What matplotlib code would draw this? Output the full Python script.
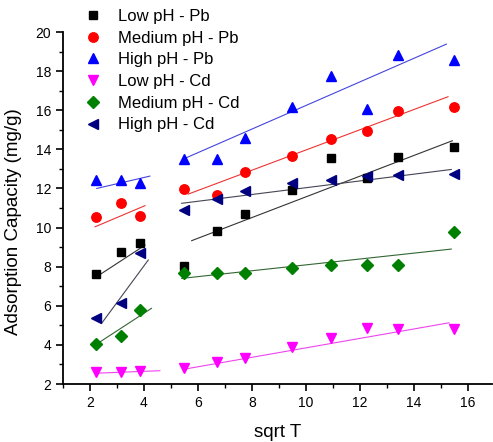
import numpy as np
import matplotlib
matplotlib.use("Agg")
import matplotlib.pyplot as plt
from matplotlib.ticker import MultipleLocator

plt.rcParams['font.family'] = ['Liberation Sans', 'DejaVu Sans']

# sqrt of contact time
sqrt_t = [2.24, 3.16, 3.87, 5.48, 6.71, 7.75, 9.49, 10.95, 12.25, 13.42, 15.49]

low_pb = [7.6, 8.75, 9.2, 8.05, 9.8, 10.7, 11.9, 13.55, 12.55, 13.6, 14.1]
med_pb = [10.55, 11.25, 10.6, 11.95, 11.65, 12.85, 13.65, 14.55, 14.95, 15.95, 16.15]
high_pb = [12.45, 12.45, 12.3, 13.5, 13.5, 14.6, 16.15, 17.75, 16.05, 18.8, 18.55]
low_cd = [2.6, 2.62, 2.66, 2.8, 3.1, 3.32, 3.88, 4.34, 4.85, 4.83, 4.8]
med_cd = [4.05, 4.45, 5.8, 7.7, 7.7, 7.7, 7.95, 8.1, 8.1, 8.1, 9.75]
high_cd = [5.37, 6.14, 8.7, 10.9, 11.46, 11.87, 12.28, 12.43, 12.63, 12.68, 12.74]

# fitted lines: (x0, y0, x1, y1) for early / late stage
fit_low_pb = [(2.25, 7.49, 4.04, 9.10), (5.77, 9.33, 15.43, 14.44)]
fit_med_pb = [(2.19, 10.04, 4.04, 11.12), (5.64, 11.71, 15.27, 16.69)]
fit_high_pb = [(2.25, 12.00, 4.22, 12.63), (5.52, 13.54, 15.21, 19.38)]
fit_low_cd = [(2.19, 2.55, 4.59, 2.68), (5.46, 2.75, 15.31, 5.13)]
fit_med_cd = [(2.19, 3.99, 4.28, 5.87), (5.40, 7.40, 15.39, 8.90)]
fit_high_cd = [(2.43, 5.10, 4.16, 8.34), (5.40, 11.24, 15.39, 12.97)]

series = [
    ("Low pH - Pb", low_pb, fit_low_pb, "s", "black", "#333333", 6),
    ("Medium pH - Pb", med_pb, fit_med_pb, "o", "red", "#ee3333", 6.8),
    ("High pH - Pb", high_pb, fit_high_pb, "^", "blue", "#4444dd", 7.2),
    ("Low pH - Cd", low_cd, fit_low_cd, "v", "magenta", "#ee44ee", 7.2),
    ("Medium pH - Cd", med_cd, fit_med_cd, "D", "green", "#336633", 5.8),
    ("High pH - Cd", high_cd, fit_high_cd, "<", "navy", "#444455", 7.2),
]

fig = plt.figure(figsize=(4.93, 4.42), dpi=100)
ax = fig.add_axes([63 / 493, 1 - 384 / 442, 429 / 493, 352 / 442])

for lab, y, fits, m, c, lc, ms in series:
    ax.plot(sqrt_t, y, ls="none", marker=m, color=c, ms=ms, label=lab, zorder=3)
    for x0, y0, x1, y1 in fits:
        ax.plot([x0, x1], [y0, y1], color=lc, lw=0.8, zorder=2)

ax.set_xlim(1, 16.9)
ax.set_ylim(2, 20)
ax.xaxis.set_major_locator(MultipleLocator(2))
ax.xaxis.set_minor_locator(MultipleLocator(1))
ax.yaxis.set_major_locator(MultipleLocator(2))
ax.yaxis.set_minor_locator(MultipleLocator(1))
ax.tick_params(which="major", direction="out", length=5, width=1.2, labelsize=10)
ax.tick_params(which="minor", direction="out", length=3, width=1.0)
for s in ("top", "right"):
    ax.spines[s].set_visible(False)
for s in ("left", "bottom"):
    ax.spines[s].set_linewidth(1.3)

ax.set_xlabel("sqrt T", fontsize=13.5)
ax.set_ylabel("Adsorption Capacity (mg/g)", fontsize=13.5)
ax.yaxis.set_label_coords(-0.095, 0.46)
ax.xaxis.set_label_coords(0.5, -0.115)

ax.legend(loc="upper left", bbox_to_anchor=(85 / 493, 1 - 9 / 442),
          bbox_transform=fig.transFigure, frameon=False, fontsize=12,
          numpoints=1, handlelength=1.0, handletextpad=1.0,
          labelspacing=0.4, borderpad=0, borderaxespad=0)

fig.savefig("out.png", dpi=100)
